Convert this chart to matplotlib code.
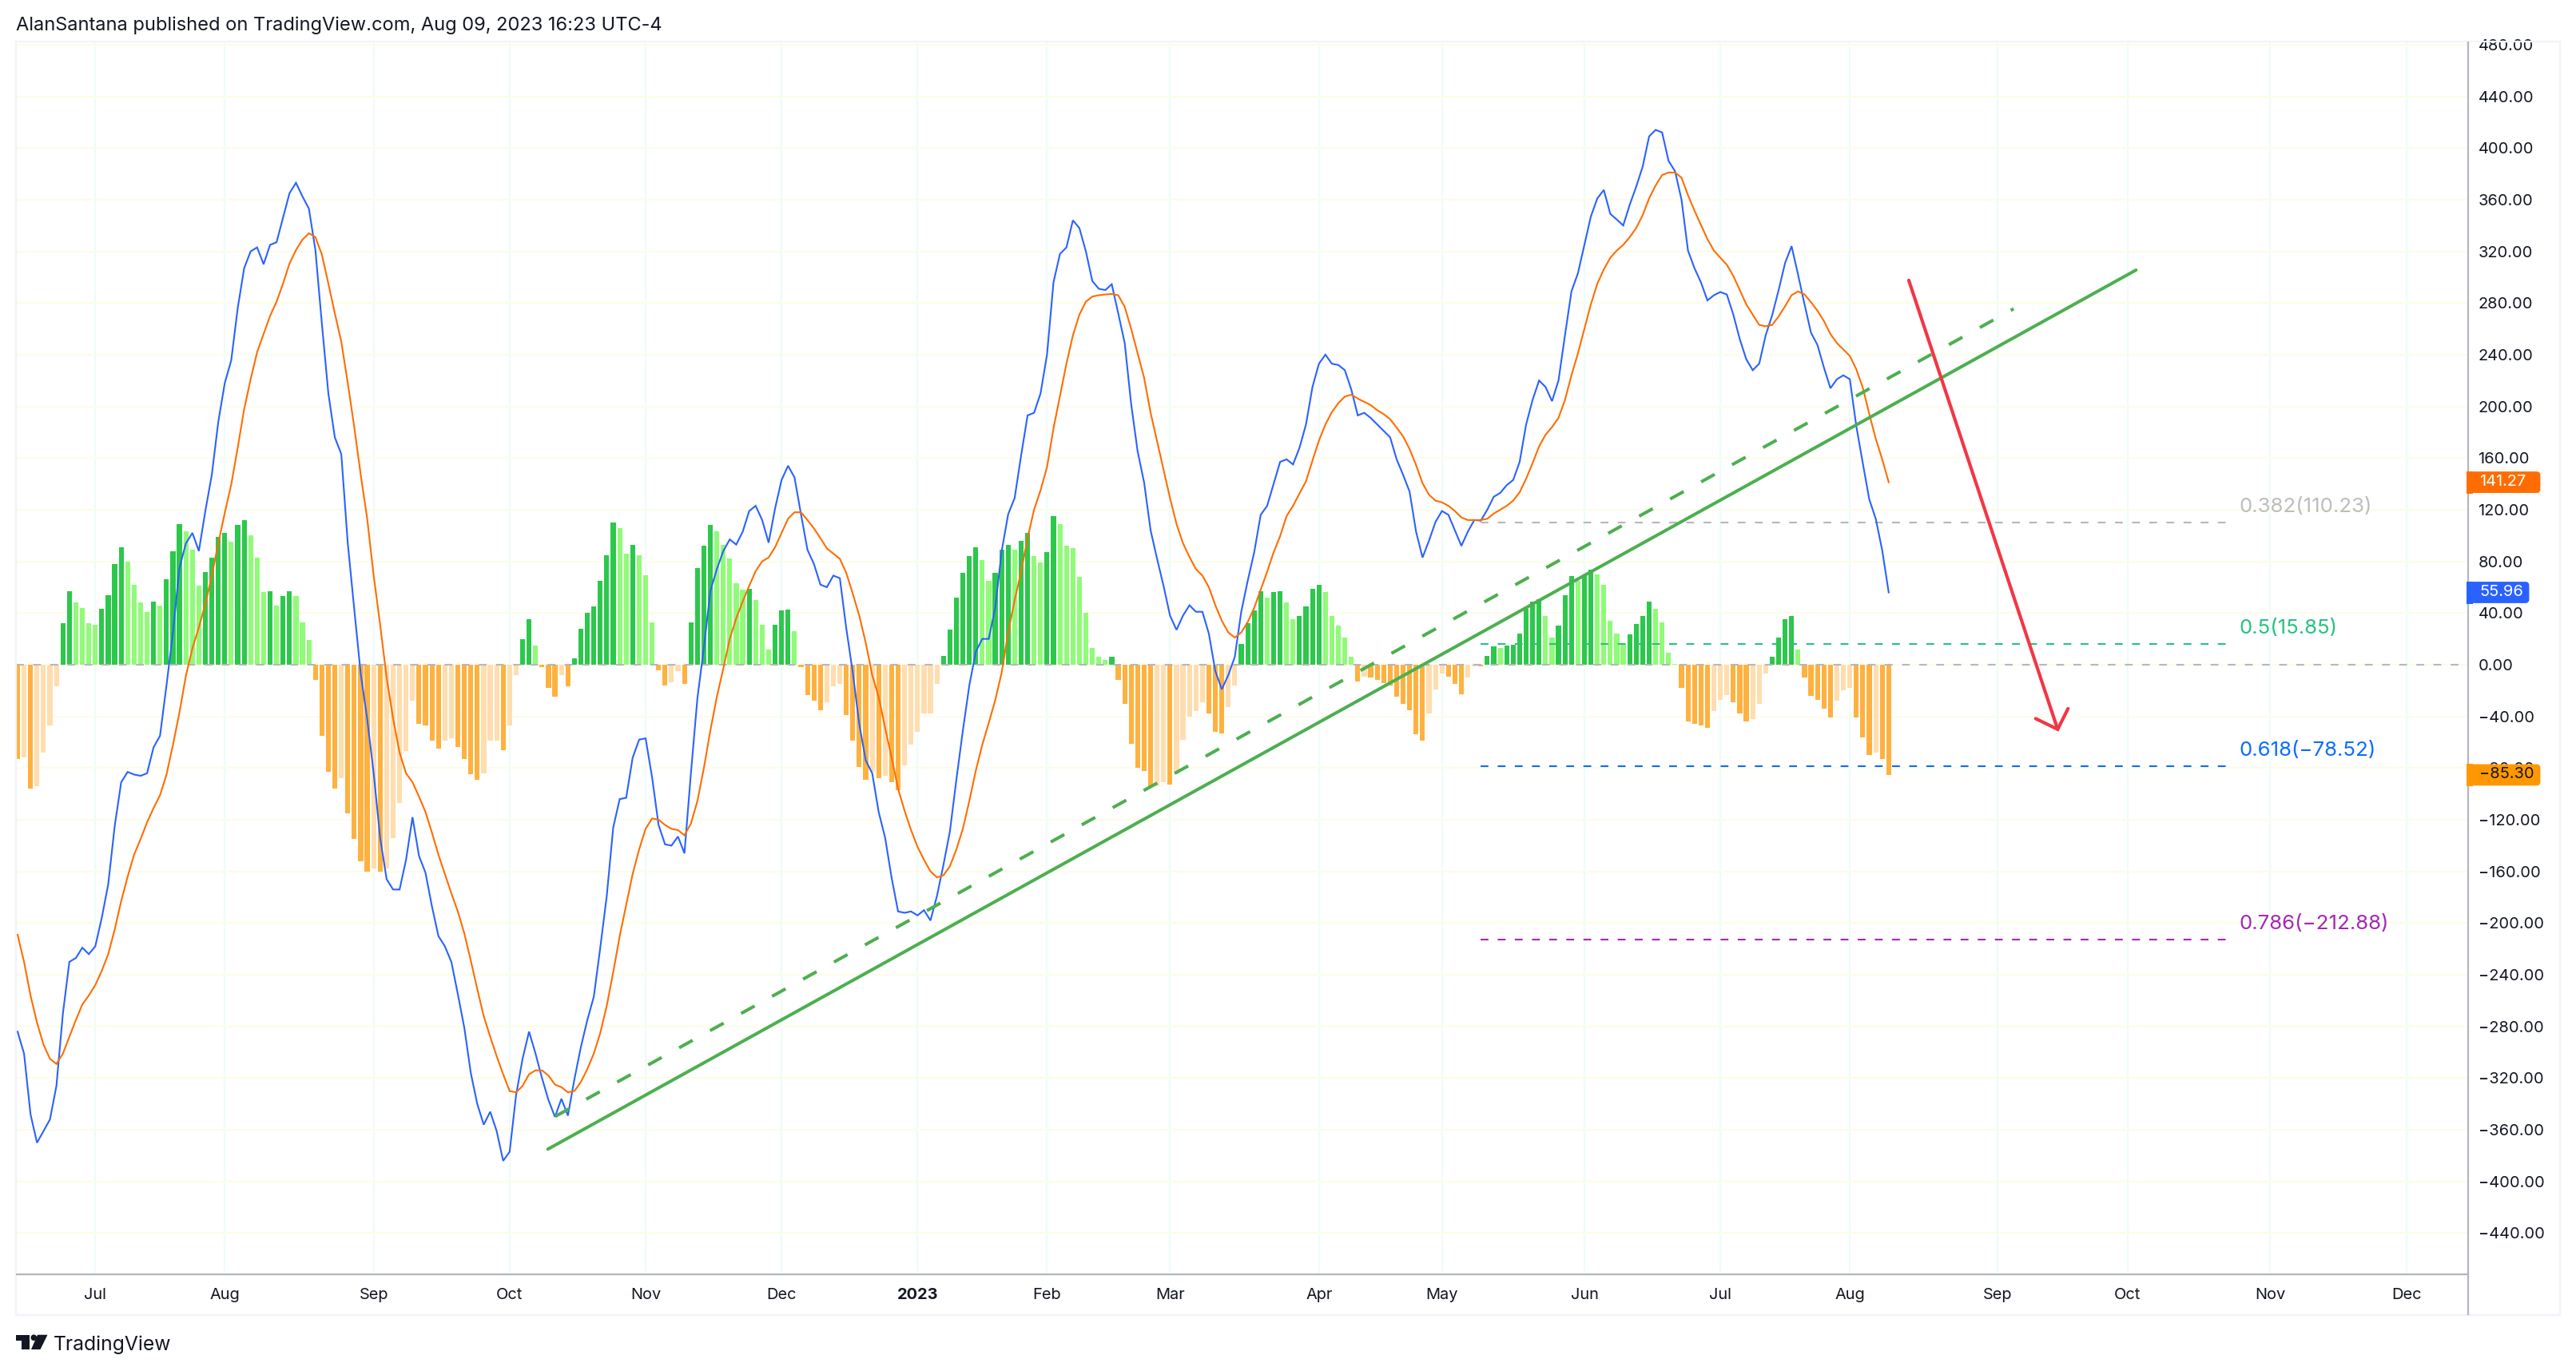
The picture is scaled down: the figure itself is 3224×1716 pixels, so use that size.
import matplotlib
matplotlib.use("Agg")
import matplotlib.pyplot as plt
from matplotlib.patches import Rectangle, FancyBboxPatch, Polygon, Circle
import numpy as np

plt.rcParams["font.family"] = "Inter"

hist_values = [
 -73,-72,-96,-94,-68,-47,-17,32,57,48,44,32,31,43,54,78,91,80,62,48,41,49,46,66,88,109,103,89,61,72,
 83,99,102,95,108,112,100,83,56,57,46,53,57,53,33,19,-12,-55,-83,-96,-88,-115,-135,-152,-160,-158,-160,-158,-134,-107,
 -67,-28,-46,-47,-59,-65,-59,-57,-64,-73,-85,-89,-84,-59,-59,-66,-47,-8,20,35,15,-2,-18,-25,-8,-17,5,28,40,45,
 65,85,110,106,86,93,85,
 69.5,33,-4.5,-16,-13.6,-5,-15,32.5,75,92,108,103,93,82,63,58,59,50,31,11.5,
 31,42,42.4,26,-2,-23.5,-28,-35,-29,-17,-15,-39,-59,-79,-89,-83,-88,-86,-91,-97,
 -78,-62,-52,-38,-38,-15,6.6,27,52,71,84,91,81,65,71,89,93,89,96,102,
 84,79,87,115,109,92,90,68,40,13,6,4,6,-12,-30,-61,-80,-82,-94,-94,
 -91,-93,-83,-58,-40,-36,-29,-38,-52,-53,-33,-16,16,32,42,57,52,56,
 57,48,35,38,45,59,62,56,38,30,21,6,-13,-9,-10,-12,-14,-16,-25,-30,
 -35,-54,-59,-38,-19,-7,-9,-15,-23,-10,-1,-1.5,7,14,13,15,15.4,24,43,49,
 51,38,21,30,54,68.5,65,69.5,73.5,70,62,34,24,16,23.5,31.5,38,49,43,33,
 9,0.5,-18,-44,-46,-47,-49,-36,-27,-23.5,-29,-38,-44,-42,-30,-7,6,21,35,38,
 12,-10,-24,-27,-34,-41,-28,-20,-18,-41,-56,-70,-68,-73,-85.3]

blue_values = [
 -284,-301,-348,-370,-361,-352,-326,-270,-230,-227,-219,-224,-218,-196,-170,-125,-91,-83,-85,-86,
 -84,-64,-55,-16,25,75,94,102,88,119,147,188,218,235.6,276,307,320,323,310,325,
 327,346,365,373,362.5,353,321,264,210,176,163,94,43,-7,-42,-84,-134,-166,-174,-174,
 -151,-118,-148,-161,-187,-210,-218,-230,-255,-281,-316,-340,-356,-346,-361,-384,-377,-333,-305,-284,
 -301,-320,-337,-350,-336,-349,-321,-296,-275,-257,-219,-179,-126,-104,-103,-72,-58,-57,-87,-124,
 -139,-140,-133,-146,-84,-26,13,57,74,88,97,93,103,119,123,112,94.5,121,143,154,
 145,116.5,89,78,62,60,69,67,28,-6,-46,-74,-84,-114,-134,-165,-191,-192,-191,-194,
 -190,-198,-179,-155,-129,-89,-51,-16,10,20,20,44,88,116.5,129,162,193,195,210,240,
 296,318,323,344,338,320,297,291,290,294.5,272,249,201.6,165,141,104,82,61,38,27,
 38,46,41,41,24,-5,-19,-8,6,41,65,87,116,123,140,157,159,155,168,186,
 215,233,240,233,232,228,213,193,195,191,186,181,176,159,147,134,103,83,96,110.5,
 119,116,104,92,103,112,111.5,120,130,133,139,143,157,186,205,220,215,204,220,255,
 289,303,325,347,361,367.5,349,344.6,340,356,370,385.5,409,414,412,390,382,360,320.6,307,
 296,282,286,288.5,286.6,271,252,236.5,228,233,255,270.5,290,311,324,302,279,257,247.5,230,
 214,221,224,221,184.6,156,128,113,88.5,55.96]

orange_values = [
 -209,-230,-256,-277,-294,-305,-309,-301,-288,-275,-263,-256,-248,-237,-224,-205,-183,-164,-147,-135,
 -122,-111,-101,-85,-62,-37,-8.5,12.6,29,47,69,94,117.5,139.5,168,198,221,242,256,270,
 281,295,310.5,321,329,334,331,317.5,295,272,250,218,184,147,113,69,31,-10,-41.6,-68,
 -84,-91,-102,-114,-130,-147,-162,-177,-191,-208,-229,-251,-272,-288,-303,-317,-330,-331,-326,-317,
 -314,-314,-318,-325,-327,-331,-330,-323,-313,-301,-285,-264,-238,-210,-186,-162,-143,-127,-119,-120,
 -124,-127,-128,-132,-123,-105.5,-80,-51,-25,-3,20,36,49,61,72.5,80,83,91,102,113,
 118,118,112,105.5,98,90,86,82,71,55,38,17,-8,-25,-49,-72,-96,-113,-128,-141,
 -151,-160,-164.6,-163,-156,-143,-127,-105.5,-82,-62,-45,-27.5,-6,25,50,72,98,120,135,153,
 183,208,233,255,271,281,285,286,286.6,287,286,277,260,241,222,195,173,151,129,109,
 94,83.5,74,69,60,46,34,25,21,25,33,44,58,72,87,99.5,115,123,132.6,142,
 158,173.5,186,195.6,202.5,207.6,209,206,203.5,201,197,194,190,183.6,176.7,167,154.6,140.5,131.6,127,
 125.7,123,119,114,112,112,112,113,117,120,123,127,133.5,144,156,169,178,184,191,205,
 224,241,260,279,295,306,315,320.6,325,331,338,348,361,371,379,381,381,377,363.5,351.5,
 340.5,329.5,320.6,315,309.6,301,290,279,271,263,262,263,269.6,277.5,286,289,286.6,280.6,274,266,
 256,249,244,239,228.6,214.5,194,175,159,141.27]

month_labels = ["Jul","Aug","Sep","Oct","Nov","Dec","2023","Feb","Mar","Apr","May","Jun","Jul","Aug","Sep","Oct","Nov","Dec"]
month_pos = [12,32,55,76,97,118,139,159,178,201,220,242,263,283,305.8,325.9,347.9,369]
price_ticks = list(range(-440, 481, 40))

fib_labels = ["0.382(110.23)","0.5(15.85)","0.618(\u221278.52)","0.786(\u2212212.88)"]
fib_levels = [110.23,15.85,-78.52,-212.88]
fib_line_colors = ["#B7B7B7","#26C281","#0A6CFF","#A626B8"]
fib_text_colors = ["#BDBDBD","#26C281","#0A6CFF","#A626B8"]
fib_span = [226.0,341.1]
fib_label_x = 343.2

trend_solid_x = [81.9,327.2]
trend_solid_y = [-375,305.5]
trend_dash_x = [83.05,308.3]
trend_dash_y = [-349.6,275.5]
arrow_x = [292.1,315.1]
arrow_y = [297.6,-50]
head_x = [311.7,315.1,316.7]
head_y = [-41.7,-50,-34]

tag_values = [141.27,55.96,-85.30]
tag_labels = ["141.27","55.96","\u221285.30"]
tag_colors = ["#FF6D00","#2962FF","#FF9800"]
tag_text = ["white","white","#131722"]
tag_right = [3180,3166,3180]

W, H = 3224, 1716
L, R, T, B = 20, 3089, 53, 1595
fig = plt.figure(figsize=(W/100, H/100), dpi=100, facecolor="white")
ax = fig.add_axes([L/W, 1-B/H, (R-L)/W, (B-T)/H])
step = (2363.8-22)/289
ax.set_xlim((L-22)/step, (R-22)/step)
ax.set_ylim((832-B)/1.617, (832-T)/1.617)
for s in ax.spines.values():
    s.set_visible(False)

idx = np.arange(len(hist_values))
cols = []
for i, v in enumerate(hist_values):
    prev = hist_values[i-1] if i else v-1 if v > 0 else v+1
    if v >= 0:
        cols.append("#2BC84B" if v > prev else "#90FB78")
    else:
        cols.append("#FFB13F" if v < prev else "#FFDDAE")

ax.set_axisbelow(True)
ax.set_xticks(month_pos)
ax.set_xticklabels([])
ax.set_yticks(price_ticks)
ax.yaxis.tick_right()
ax.set_yticklabels([f"{v:.2f}".replace("-", "\u2212") for v in price_ticks], fontsize=14.4, color="#131722")
ax.tick_params(axis="both", length=0)
ax.tick_params(axis="y", pad=9)
ax.grid(axis="x", color="#EFFCF9", lw=1.6)
ax.grid(axis="y", color="#FDFDE8", lw=1.6)

ax.bar(idx, hist_values, width=0.76, color=cols, zorder=2)
ax.axhline(0, color="#B2B5BE", lw=1.5, dashes=(4.7, 5.6), zorder=3, alpha=0.95)

for y, c in zip(fib_levels, fib_line_colors):
    ax.plot(fib_span, [y, y], color=c, lw=1.5, dashes=(4.7, 5.6), zorder=3)
for y, t, c in zip(fib_levels, fib_labels, fib_text_colors):
    ax.annotate(t, (fib_label_x, y), xytext=(0, 14), textcoords="offset points",
                color=c, fontsize=18.6, va="center", ha="left", zorder=6)

ax.plot(idx, blue_values, color="#2962FF", lw=1.5, zorder=4, solid_joinstyle="miter")
ax.plot(idx, orange_values, color="#FF6D00", lw=1.5, zorder=4, solid_joinstyle="miter")
ax.plot(trend_solid_x, trend_solid_y, color="#4CAF50", lw=2.9, zorder=5, solid_capstyle="round")
ax.plot(trend_dash_x, trend_dash_y, color="#4CAF50", lw=2.9, dashes=(4.8, 6.2), zorder=5)
ax.plot(arrow_x, arrow_y, color="#F23645", lw=3.0, zorder=5, solid_capstyle="round")
ax.plot(head_x, head_y, color="#F23645", lw=3.0, zorder=5, solid_capstyle="round", solid_joinstyle="miter")

# overlay in pixel coordinates
ov = fig.add_axes([0, 0, 1, 1], facecolor="none")
ov.set_xlim(0, W); ov.set_ylim(H, 0); ov.axis("off")
frame = "#F0F3FA"; axisc = "#B2B5BE"
ov.add_patch(Rectangle((19.5, 52), 3204-19.5, 1646-52, fill=False, ec=frame, lw=1.6))
ov.plot([L, R], [1595, 1595], color=axisc, lw=1.6, solid_capstyle="butt")
ov.plot([R-0.5, R-0.5], [52, 1646], color=axisc, lw=1.6, solid_capstyle="butt")

for x, t in zip(month_pos, month_labels):
    px = 22 + step*x
    ov.text(px, 1621, t, ha="center", va="center", fontsize=14.4, color="#131722",
            fontweight="bold" if t == "2023" else "normal")

fig.canvas.draw()
for v, t, c, tc, r in zip(tag_values, tag_labels, tag_colors, tag_text, tag_right):
    yp = H - ax.transData.transform((0, v))[1]
    ov.add_patch(FancyBboxPatch((3090, yp-12), r-3090-2, 24, boxstyle="round,pad=0,rounding_size=3",
                 mutation_aspect=1, fc=c, ec=c, lw=2, zorder=7))
    ov.add_patch(Rectangle((3087, yp-14), 8, 28, fc=c, ec="none", zorder=7))
    ov.text(3103, yp-0.5, t, ha="left", va="center", color=tc, fontsize=14.4, zorder=8)

ov.text(20, 32, "AlanSantana published on TradingView.com, Aug 09, 2023 16:23 UTC-4",
        fontsize=17.0, color="#131722", va="center", ha="left")
# logo
logo = "#131722"
ov.add_patch(Polygon([(20,1670.7),(36.6,1670.7),(36.6,1689),(26.8,1689),(26.8,1677.5),(20,1677.5)], fc=logo, ec="none"))
ov.add_patch(Circle((42.3,1674.2), 3.8, fc=logo, ec="none"))
ov.add_patch(Polygon([(47,1670.7),(59.5,1670.7),(50.5,1689),(39,1689)], fc=logo, ec="none"))
ov.text(67, 1683, "TradingView", fontsize=17.8, color=logo, va="center", ha="left")

fig.savefig("out.png", dpi=100)
